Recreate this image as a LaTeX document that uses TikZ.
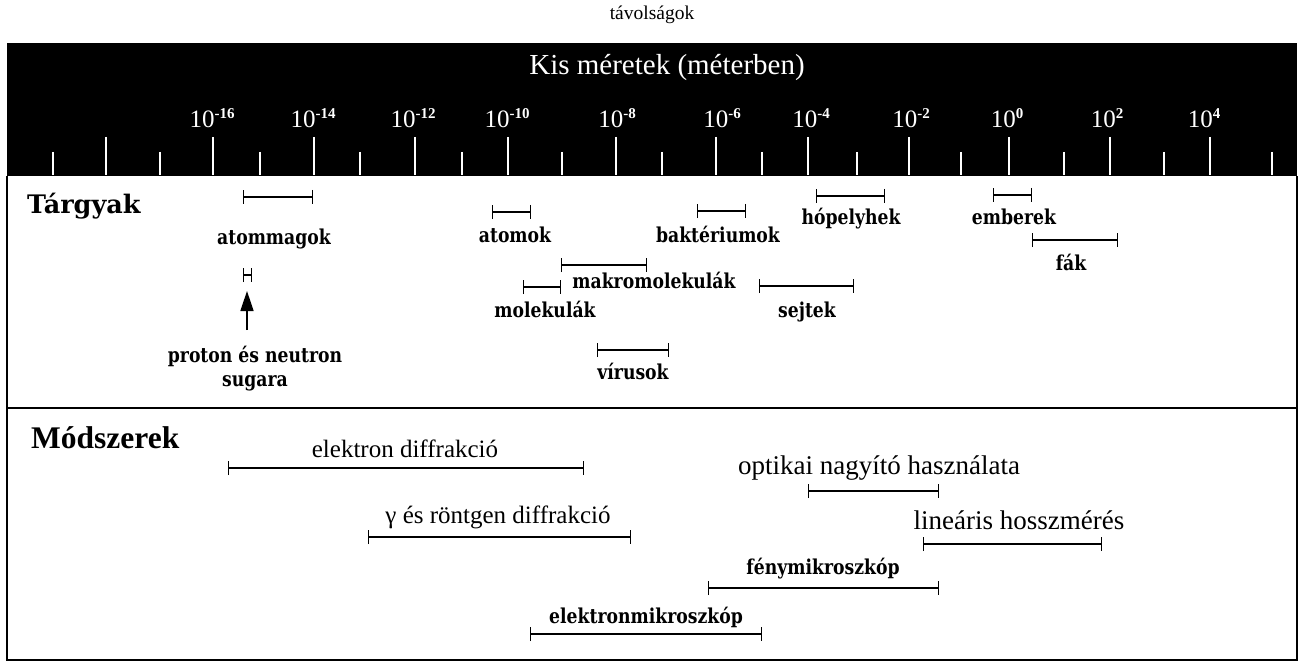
\documentclass[tikz,border=0pt]{standalone}
\usepackage{fontspec}
\setmainfont{Liberation Serif}
\newfontfamily\dvs{DejaVu Serif}
\newfontfamily\dvsn[FakeStretch=0.84]{DejaVu Serif}
\usetikzlibrary{arrows.meta}
\newcommand\tenpow[1]{10\raisebox{9.5pt}{\fontsize{15}{17}\selectfont\bfseries #1}}
\begin{document}
\begin{tikzpicture}[x=1pt,y=-1pt,
  lbl/.style={inner sep=0pt, anchor=base},
  obj/.style={lbl, font=\dvsn\bfseries\fontsize{20.5}{22}\selectfont},
  meth/.style={lbl, font=\fontsize{25}{30}\selectfont},
  methbig/.style={lbl, font=\fontsize{27}{30}\selectfont},
  expo/.style={lbl, text=white, font=\fontsize{25}{28}\selectfont},
  bar/.style={line width=1.2pt, {Bar[width=14pt,line width=1.4pt]}-{Bar[width=14pt,line width=1.4pt]}},
  tickmark/.style={white, line width=1.8pt},
  upArrow/.style={line width=1.6pt, -{Triangle[length=20pt,width=13pt]}},
]
\useasboundingbox (0,0) rectangle (1303,663);
\fill[white] (0,0) rectangle (1303,663);
% title
\node[lbl, font=\fontsize{19.5}{22}\selectfont] (title) at (652,20) {távolságok};
% header band
\fill[black] (7,43) rectangle (1297,176);
\node[lbl, text=white, font=\fontsize{29}{34}\selectfont] (kis) at (667,75) {Kis méretek (méterben)};
\foreach \x in {106,213,314,415,508,616,716,808,909,1009,1110,1210}
  \draw[tickmark] (\x,137) -- (\x,175);
\foreach \x in {53,160,260,360,462,562,662,762,857,961,1064,1164,1272}
  \draw[tickmark] (\x,152) -- (\x,175);
\node[expo] (em16) at (212,128) {\tenpow{-16}};
\node[expo] (em14) at (313,128) {\tenpow{-14}};
\node[expo] (em12) at (413,128) {\tenpow{-12}};
\node[expo] (em10) at (507,128) {\tenpow{-10}};
\node[expo] (em8)  at (617,128) {\tenpow{-8}};
\node[expo] (em6)  at (722,128) {\tenpow{-6}};
\node[expo] (em4)  at (811,128) {\tenpow{-4}};
\node[expo] (em2)  at (911,128) {\tenpow{-2}};
\node[expo] (ep0)  at (1007,128) {\tenpow{0}};
\node[expo] (ep2)  at (1107,128) {\tenpow{2}};
\node[expo] (ep4)  at (1204,128) {\tenpow{4}};
% frame
\draw[line width=1.8pt] (7,176) -- (7,660) -- (1297,660) -- (1297,176);
\draw[line width=1.4pt] (7,408) -- (1297,408);
% Targyak
\node[lbl, anchor=base west, font=\dvs\bfseries\fontsize{25.5}{30}\selectfont] (targyak) at (27,213) {Tárgyak};
\coordinate (amL) at (243,197); \coordinate (amR) at (313,197);
\draw[bar] (amL) -- (amR);
\node[obj] (am) at (274,244) {atommagok};
\coordinate (pnL) at (243,275); \coordinate (pnR) at (252,275);
\draw[bar] (pnL) -- (pnR);
\coordinate (arTail) at (247,330); \coordinate (arTip) at (247,291);
\draw[upArrow] (arTail) -- (arTip);
\node[obj, anchor=center, align=center, font=\dvsn\bfseries\fontsize{20.5}{24}\selectfont] (pn) at (255,369) {proton és neutron\\sugara};
\coordinate (atL) at (492,212); \coordinate (atR) at (531,212);
\draw[bar] (atL) -- (atR);
\node[obj] (at) at (515,242) {atomok};
\coordinate (bkL) at (697,211); \coordinate (bkR) at (746,211);
\draw[bar] (bkL) -- (bkR);
\node[obj] (bk) at (718,242) {baktériumok};
\coordinate (hpL) at (816,196); \coordinate (hpR) at (885,196);
\draw[bar] (hpL) -- (hpR);
\node[obj] (hp) at (851,225) {hópelyhek};
\coordinate (ebL) at (993,195); \coordinate (ebR) at (1032,195);
\draw[bar] (ebL) -- (ebR);
\node[obj] (eb) at (1014,225) {emberek};
\coordinate (fkL) at (1032,240); \coordinate (fkR) at (1118,240);
\draw[bar] (fkL) -- (fkR);
\node[obj] (fk) at (1071,270) {fák};
\coordinate (mmL) at (561,265); \coordinate (mmR) at (647,265);
\draw[bar] (mmL) -- (mmR);
\node[obj] (mm) at (654,288) {makromolekulák};
\coordinate (mlL) at (523,287); \coordinate (mlR) at (561,287);
\draw[bar] (mlL) -- (mlR);
\node[obj] (ml) at (545,317) {molekulák};
\coordinate (sjL) at (759,286); \coordinate (sjR) at (854,286);
\draw[bar] (sjL) -- (sjR);
\node[obj] (sj) at (807,317) {sejtek};
\coordinate (vrL) at (597,350); \coordinate (vrR) at (669,350);
\draw[bar] (vrL) -- (vrR);
\node[obj] (vr) at (633,379) {vírusok};
% Modszerek
\node[lbl, anchor=base west, font=\bfseries\fontsize{31.5}{34}\selectfont] (modsz) at (31,448) {Módszerek};
\coordinate (edL) at (228,468); \coordinate (edR) at (584,468);
\draw[bar] (edL) -- (edR);
\node[meth] (ed) at (405,457) {elektron diffrakció};
\coordinate (gdL) at (368,537); \coordinate (gdR) at (631,537);
\draw[bar] (gdL) -- (gdR);
\node[meth] (gd) at (498,523) {γ és röntgen diffrakció};
\coordinate (onL) at (808,491); \coordinate (onR) at (939,491);
\draw[bar] (onL) -- (onR);
\node[methbig] (on) at (879,474) {optikai nagyító használata};
\coordinate (lhL) at (923,544); \coordinate (lhR) at (1102,544);
\draw[bar] (lhL) -- (lhR);
\node[methbig] (lh) at (1019,529) {lineáris hosszmérés};
\coordinate (fmL) at (708,588); \coordinate (fmR) at (939,588);
\draw[bar] (fmL) -- (fmR);
\node[obj] (fm) at (823,574) {fénymikroszkóp};
\coordinate (emL) at (530,634); \coordinate (emR) at (762,634);
\draw[bar] (emL) -- (emR);
\node[obj] (emk) at (646,623) {elektronmikroszkóp};
\end{tikzpicture}
\end{document}
